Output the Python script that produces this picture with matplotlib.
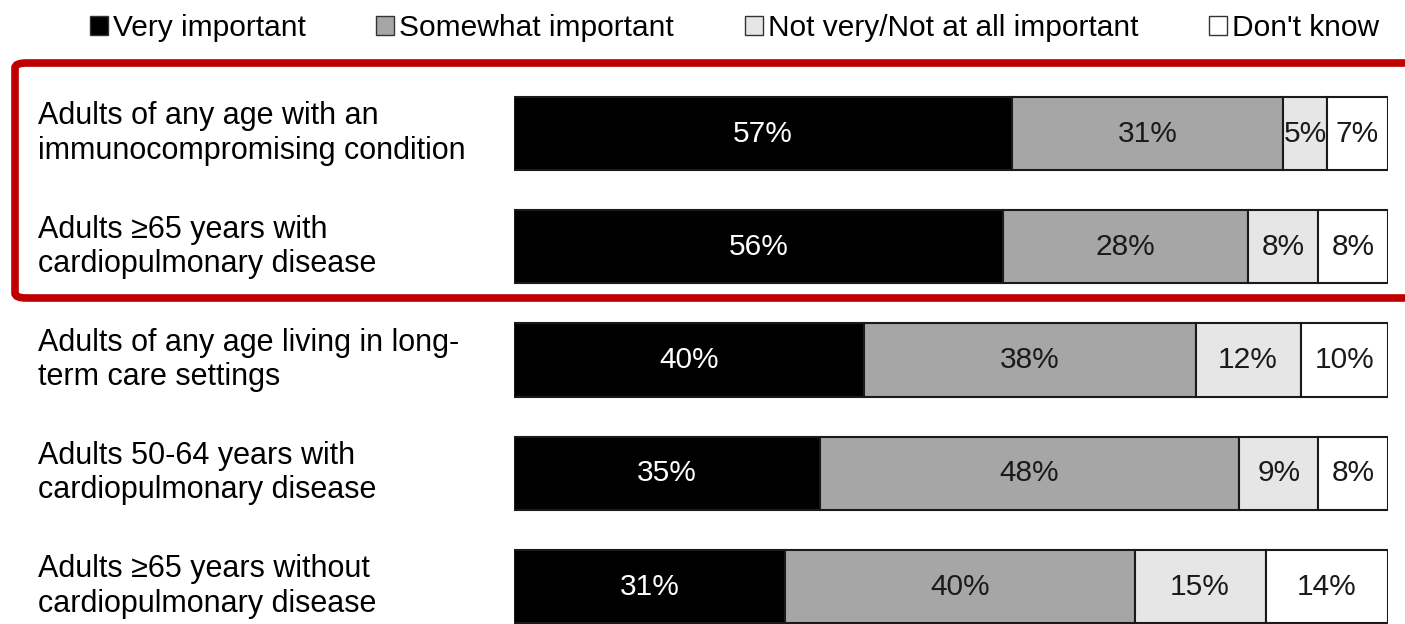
import numpy as np
import matplotlib.pyplot as plt
from matplotlib.patches import Patch, FancyBboxPatch
from matplotlib.transforms import blended_transform_factory

plt.rcParams['font.family'] = ['Liberation Sans', 'DejaVu Sans']

groups = ["Adults of any age with an\nimmunocompromising condition",
          "Adults \u226565 years with\ncardiopulmonary disease",
          "Adults of any age living in long-\nterm care settings",
          "Adults 50-64 years with\ncardiopulmonary disease",
          "Adults \u226565 years without\ncardiopulmonary disease"]
series = ["Very important", "Somewhat important",
          "Not very/Not at all important", "Don't know"]
very = [57, 56, 40, 35, 31]
somewhat = [31, 28, 38, 48, 40]
not_very = [5, 8, 12, 9, 15]
dont_know = [7, 8, 10, 8, 14]

colors = ["#000000", "#A6A6A6", "#E6E6E6", "#FFFFFF"]
text_colors = ["white", "#1a1a1a", "#1a1a1a", "#1a1a1a"]

fig = plt.figure(figsize=(14.05, 6.24), dpi=100)
ax = fig.add_axes([514 / 1405, 0, (1388 - 514) / 1405, 1])

y = np.arange(len(groups))
left = np.zeros(len(groups))
handles = []
for vals, name, c, tc in zip([very, somewhat, not_very, dont_know], series, colors, text_colors):
    vals = np.array(vals, dtype=float)
    bars = ax.barh(y, vals, left=left, height=0.645, color=c,
                   edgecolor="#1a1a1a", linewidth=1.5)
    for b, v in zip(bars, vals):
        ax.text(b.get_x() + b.get_width() / 2, b.get_y() + b.get_height() / 2,
                f"{v:.0f}%", ha="center", va="center", fontsize=21.5, color=tc)
    left += vals
    handles.append(Patch(facecolor=c, edgecolor="#333333", linewidth=1, label=name))

ax.set_xlim(0, 100)
ax.set_ylim(4.331, -1.179)
ax.axis("off")

# row labels on the left
trans = blended_transform_factory(fig.transFigure, ax.transData)
for yi, g in zip(y, groups):
    ax.text(38 / 1405, yi, g, transform=trans, ha="left", va="center",
            fontsize=22, color="black", linespacing=1.19)

fig.legend(handles=handles, loc="center", bbox_to_anchor=(0.5228, 1 - 28 / 624),
           ncol=4, frameon=False, fontsize=21.5, handlelength=0.6, handleheight=0.6,
           handletextpad=0.17, columnspacing=2.37, borderpad=0, borderaxespad=0)

# red highlight box round the first two rows
box = FancyBboxPatch((15 / 1405, 1 - 298 / 624), 1.2, (298 - 63) / 624,
                     boxstyle="round,pad=0,rounding_size=0.008",
                     transform=fig.transFigure, fill=False,
                     edgecolor="#C00000", linewidth=5.5, clip_on=False)
fig.patches.append(box)

plt.savefig("out.png", dpi=100)
